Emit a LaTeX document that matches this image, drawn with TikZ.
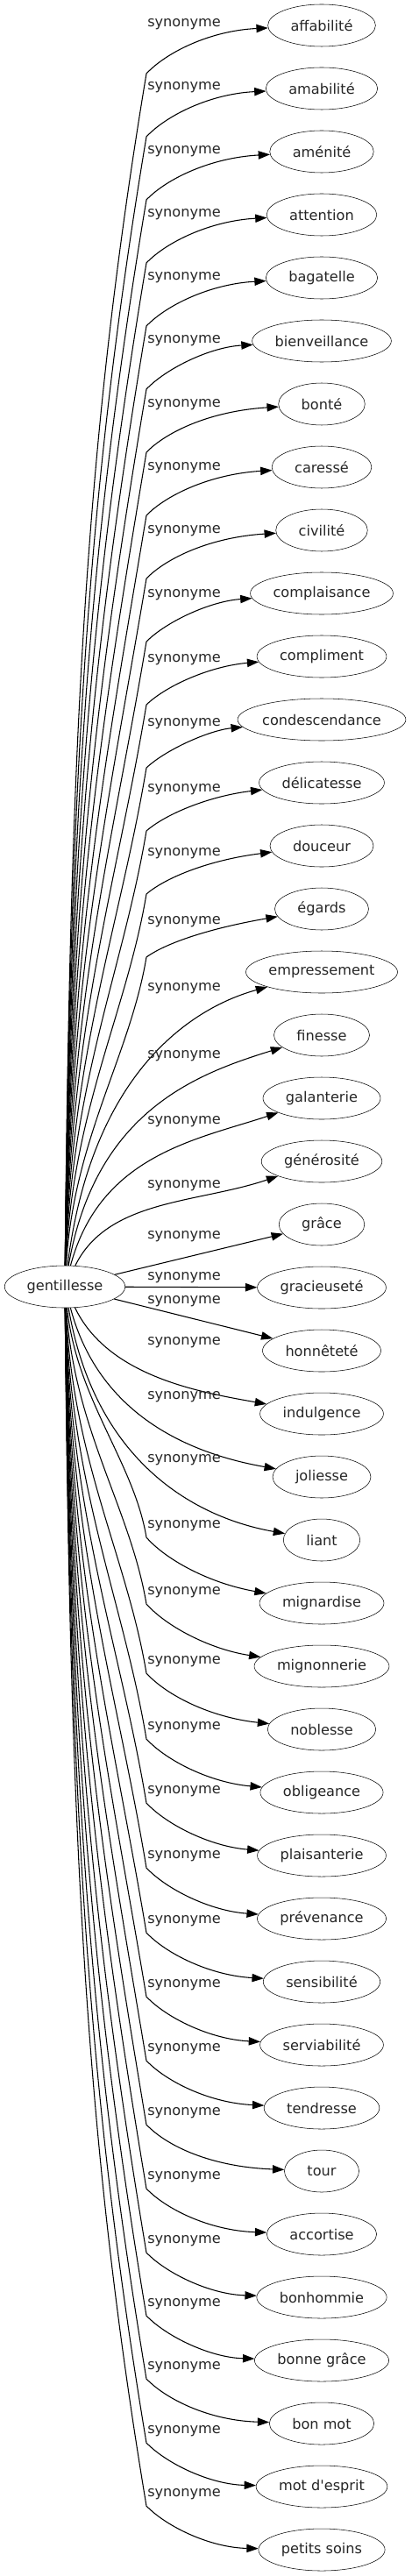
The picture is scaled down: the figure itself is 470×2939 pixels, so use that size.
\documentclass[tikz,border=0pt]{standalone}
\usepackage{fontspec}
\setmainfont{DejaVu Sans}[Ligatures=TeXOff]
\usetikzlibrary{arrows.meta, shapes.geometric}
\newlength\wordwd
\newcommand\nodefont{\fontsize{12.1}{14.5}\selectfont}
% width of a word, measured outside the picture font state
\newcommand\measureword[1]{%
  \pgfinterruptpicture
    \settowidth\wordwd{\nodefont #1}\global\wordwd=\wordwd
  \endpgfinterruptpicture}

\begin{document}
\begin{tikzpicture}[x=0.75pt, y=-0.75pt,
    word/.style={draw, ellipse, inner sep=0pt, minimum height=36pt,
      font=\nodefont, text=black!85},
    rel/.style={font=\nodefont, text=black!85, inner sep=0pt},
    edge/.style={-{Triangle[length=10pt,width=7pt]}, line width=0.8pt},
  ]
  \useasboundingbox (0,0) rectangle (470,2939);
  % source word
  \measureword{gentillesse}
  \node[word, minimum width=\wordwd+38pt] (g) at (74,1468) {gentillesse};
  % synonyms: word / label shift
  \foreach \word/\off [count=\i from 0] in {affabilité/-1, amabilité/-1,
      aménité/0, attention/0, bagatelle/0, bienveillance/0, bonté/1,
      caressé/1, civilité/1, complaisance/2, compliment/4, condescendance/5,
      délicatesse/8, douceur/9, égards/15, empressement/19, finesse/24,
      galanterie/27, générosité/28, grâce/14, gracieuseté/-11,
      honnêteté/-56, indulgence/-81, joliesse/-91, liant/-91,
      mignardise/-88, mignonnerie/-84, noblesse/-77, obligeance/-74,
      plaisanterie/-73, prévenance/-71, sensibilité/-69, serviabilité/-68,
      tendresse/-67, tour/-66, accortise/-65, bonhommie/-64,
      bonne grâce/-64, bon mot/-64, mot d'esprit/-63,
      petits soins/-63} {
    \pgfmathsetmacro\yt{29+72*\i}
    \pgfmathsetmacro\ly{\yt+(\off)}
    \measureword{\word}
    \node[word, minimum width=\wordwd+39pt] (t\i) at (367,\yt) {\word};
    \node[rel] (l\i) at (210,\ly) {synonyme};
    \pgfmathsetmacro\D{abs(\yt-1468)}
    \ifnum\i<15
      % far, upwards: bend below the label
      \pgfmathsetmacro\w{\yt+55}
      \pgfmathsetmacro\H{1468-\w}
      \pgfmathsetmacro\ax{80+50*exp(-\H/150)}
      \pgfmathsetmacro\ay{1468-0.45*\H}
      \pgfmathsetmacro\bx{167-0.05*\H}
      \pgfmathsetmacro\by{\w+0.3*\H}
      \pgfmathsetmacro\dy{\yt+(\off)+7}
      \pgfmathsetmacro\cy{\w-0.5*(\w-\dy)}
      \coordinate (w\i) at (167,\w);
      \draw[edge] (g) .. controls (\ax,\ay) and (\bx,\by) .. (w\i)
        .. controls (190,\cy) and (240,\dy) .. (t\i);
    \else\ifnum\i<19
      % near, upwards
      \pgfmathsetmacro\ax{100+60*exp(-\D/150)}
      \pgfmathsetmacro\ay{1468-0.7*\D}
      \pgfmathsetmacro\by{\yt+(\off)+20}
      \draw[edge] (g) .. controls (\ax,\ay) and (225,\by) .. (t\i);
    \else\ifnum\i<22
      \draw[edge] (g) -- (t\i);
    \else\ifnum\i<25
      % near, downwards
      \pgfmathsetmacro\ax{100+60*exp(-\D/150)}
      \pgfmathsetmacro\ay{1468+0.7*\D}
      \pgfmathsetmacro\by{\yt-25}
      \draw[edge] (g) .. controls (\ax,\ay) and (225,\by) .. (t\i);
    \else
      % far, downwards: bend at the label
      \pgfmathsetmacro\w{\ly+13}
      \pgfmathsetmacro\H{\w-1468}
      \pgfmathsetmacro\ax{80+50*exp(-\H/150)}
      \pgfmathsetmacro\ay{1468+0.45*\H}
      \pgfmathsetmacro\bx{167-0.05*\H}
      \pgfmathsetmacro\by{\w-0.3*\H}
      \pgfmathsetmacro\dy{\yt-max(2,0.8*(0-(\off)-60))}
      \pgfmathsetmacro\cy{\w+0.5*(\dy-\w)}
      \coordinate (w\i) at (167,\w);
      \draw[edge] (g) .. controls (\ax,\ay) and (\bx,\by) .. (w\i)
        .. controls (190,\cy) and (240,\dy) .. (t\i);
    \fi\fi\fi\fi
  }
\end{tikzpicture}
\end{document}
